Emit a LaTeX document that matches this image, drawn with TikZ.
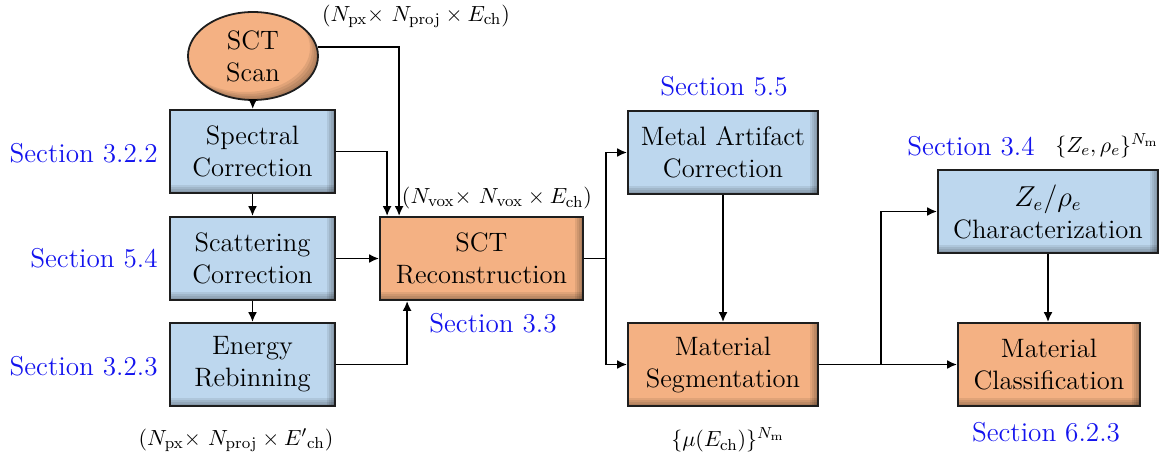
\documentclass[tikz,border=0pt]{standalone}
\usetikzlibrary{arrows.meta,calc,shapes.geometric}
\definecolor{boxblue}{RGB}{189,215,238}
\definecolor{boxorange}{RGB}{244,177,131}
\definecolor{secblue}{RGB}{20,20,238}
\definecolor{edgegray}{RGB}{30,30,30}
\tikzset{
  boxfont/.style={font=\fontsize{13.3}{16}\selectfont},
  secfont/.style={font=\fontsize{13.6}{16}\selectfont, text=secblue},
  dimfont/.style={font=\fontsize{11.2}{14}\selectfont},
  % darkened strips along the right and bottom edges of a box
  boxshade/.style={path picture={
    \foreach \w in {1,2,3,4}{
      \fill[black,opacity=0.08] ([xshift=-\w pt]path picture bounding box.north east)
            rectangle (path picture bounding box.south east);
      \fill[black,opacity=0.08] ([yshift=\w pt]path picture bounding box.south west)
            rectangle (path picture bounding box.south east);
    }}},
  procbox/.style={draw=edgegray, line width=0.9pt, rectangle, boxfont, align=center,
    minimum height=41.5pt, inner sep=2pt, boxshade},
  bluebox/.style={procbox, fill=boxblue},
  orangebox/.style={procbox, fill=boxorange},
  arr/.style={draw=black, line width=0.95pt, -{Latex[length=5pt,width=4.5pt]}},
  link/.style={draw=black, line width=0.95pt},
}
\begin{document}
\begin{tikzpicture}[x=0.5pt,y=-0.5pt]
\useasboundingbox (0,0) rectangle (1168,461);

% ---- start node ----
\node[ellipse, draw=edgegray, line width=0.9pt, fill=boxorange, boxfont, align=center,
      minimum width=65pt, minimum height=44pt, inner sep=0pt,
      path picture={
        \foreach \w in {1,2,3,4}{
          \fill[black,opacity=0.08,even odd rule]
            ([xshift=-5pt,yshift=-5pt]path picture bounding box.south west)
              rectangle ([xshift=5pt,yshift=5pt]path picture bounding box.north east)
            ([xshift=-\w pt,yshift=\w pt]path picture bounding box.center)
              ellipse [x radius=32.5pt, y radius=22pt];
        }}]
  (scan) at (253,56) {SCT\\Scan};

% ---- preprocessing chain ----
\node[bluebox, minimum width=82.5pt] (spec) at (252.5,151.5) {Spectral\\Correction};
\node[bluebox, minimum width=82.5pt] (scat) at (252.5,258.5) {Scattering\\Correction};
\node[bluebox, minimum width=82.5pt] (ener) at (252.5,364.5) {Energy\\Rebinning};

\node[orangebox, minimum width=101.5pt] (recon) at (481.5,258.5) {SCT\\Reconstruction};

\node[bluebox, minimum width=95pt] (metal) at (723,152.5) {Metal Artifact\\Correction};
\node[orangebox, minimum width=95pt] (seg) at (723,364.5) {Material\\Segmentation};

\node[bluebox, minimum width=110pt] (char) at (1048,211.5) {$Z_e/\rho_e$\\Characterization};
\node[orangebox, minimum width=91pt] (cls) at (1049,364.5) {Material\\Classification};

% ---- section references ----
\node[secfont, anchor=east, inner sep=0pt] (s322) at (158,153) {Section 3.2.2};
\node[secfont, anchor=east, inner sep=0pt] (s54) at (158,258) {Section 5.4};
\node[secfont, anchor=east, inner sep=0pt] (s323) at (158,366) {Section 3.2.3};
\node[secfont, inner sep=0pt] (s33) at (493,323) {Section 3.3};
\node[secfont, inner sep=0pt] (s55) at (724,86) {Section 5.5};
\node[secfont, inner sep=0pt] (s34) at (971,146) {Section 3.4};
\node[secfont, inner sep=0pt] (s623) at (1046,432) {Section 6.2.3};

% ---- data dimensions ----
\node[dimfont, inner sep=0pt] (dproj) at (416,16)
  {$(N_{\mathrm{px}}{\times}\ N_{\mathrm{proj}}\times E_{\mathrm{ch}})$};
\node[dimfont, inner sep=0pt] (dvox) at (497,198)
  {$(N_{\mathrm{vox}}{\times}\ N_{\mathrm{vox}}\times E_{\mathrm{ch}})$};
\node[dimfont, inner sep=0pt] (dreb) at (236,440)
  {$(N_{\mathrm{px}}{\times}\ N_{\mathrm{proj}}\times {E'}_{\mathrm{ch}})$};
\node[dimfont, inner sep=0pt] (dmu) at (728,440)
  {$\{\mu(E_{\mathrm{ch}})\}^{N_{\mathrm{m}}}$};
\node[dimfont, inner sep=0pt] (dze) at (1107,146)
  {$\{Z_e,\rho_e\}^{N_{\mathrm{m}}}$};

% ---- helper points ----
\coordinate (rinA) at ($(recon.north west)+(8,0)$);
\coordinate (rinB) at ($(recon.north west)+(20,0)$);
\coordinate (rinC) at ($(recon.south west)+(28,0)$);
\coordinate (split) at ($(recon.east)+(22,0)$);
\coordinate (branch) at ($(seg.east)+(62,0)$);

% ---- connectors ----
\draw[arr] (scan) -- (spec);
\draw[arr] (spec) -- (scat);
\draw[arr] (scat) -- (ener);
\draw[arr] (scan.8) -| (rinB);
\draw[arr] (spec.east) -| (rinA);
\draw[arr] (scat) -- (recon);
\draw[arr] (ener.east) -| (rinC);
\draw[link] (recon.east) -- (split);
\draw[arr] (split) |- (metal.west);
\draw[arr] (split) |- (seg.west);
\draw[arr] (metal) -- (seg);
\draw[arr] (seg) -- (cls);
\draw[arr] (branch) |- (char.west);
\draw[arr] (char.south) -- (char.south |- cls.north);
\end{tikzpicture}
\end{document}
